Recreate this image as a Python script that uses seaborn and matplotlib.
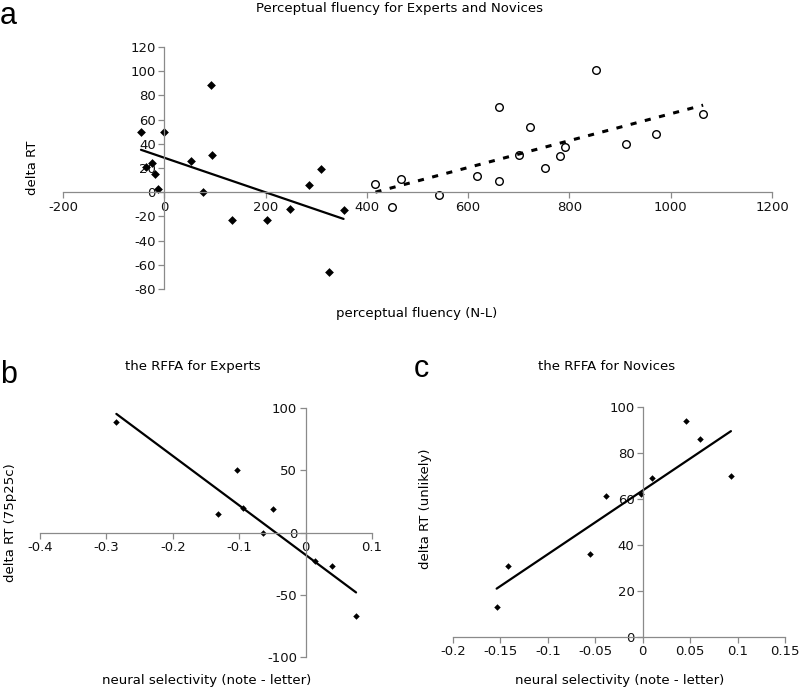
import numpy as np
import pandas as pd
import matplotlib
matplotlib.use("Agg")
import matplotlib.pyplot as plt
import seaborn as sns
from matplotlib.ticker import FuncFormatter

# panel a: perceptual fluency (N-L) vs delta RT
expert_fluency = [-46, 0, 92, 95, 53, -24, -36, -18, -13, 77, 134, 202, 249, 285, 309, 325, 354]
expert_rt = [50, 50, 89, 31, 26, 24, 21, 15, 3, 0, -23, -23, -14, 6, 19, -66, -15]
novice_fluency = [417, 449, 467, 543, 617, 661, 661, 701, 722, 751, 782, 792, 853, 911, 970, 1064]
novice_rt = [7, -12, 11, -2, 13, 9, 70, 31, 54, 20, 30, 37, 101, 40, 48, 65]

# panel b: RFFA selectivity for experts vs delta RT (75p25c)
b_selectivity = [-0.285, -0.104, -0.132, -0.094, -0.049, -0.064, 0.014, 0.040, 0.076]
b_rt = [89, 50, 15, 20, 19, 0, -23, -27, -67]

# panel c: RFFA selectivity for novices vs delta RT (unlikely)
c_selectivity = [-0.154, -0.142, -0.056, -0.039, -0.002, 0.010, 0.046, 0.060, 0.093]
c_rt = [13, 31, 36, 61.5, 62, 69, 94, 86, 70]

a_xticks = [-200, 0, 200, 400, 600, 800, 1000, 1200]
a_yticks = [-80, -60, -40, -20, 0, 20, 40, 60, 80, 100, 120]
b_xticks = [-0.4, -0.3, -0.2, -0.1, 0, 0.1]
b_yticks = [-100, -50, 0, 50, 100]
c_xticks = [-0.2, -0.15, -0.1, -0.05, 0, 0.05, 0.1, 0.15]
c_yticks = [0, 20, 40, 60, 80, 100]

sns.set_style("white")
plt.rcParams["font.family"] = ["DejaVu Sans"]
plt.rcParams["axes.unicode_minus"] = False
plt.rcParams["text.color"] = "black"

W, H = 800, 691
FS = 9.5
fig = plt.figure(figsize=(W / 100, H / 100), dpi=100)


def px_axes(x0, y0, x1, y1):
    return fig.add_axes([x0 / W, 1 - y1 / H, (x1 - x0) / W, (y1 - y0) / H])


def px_text(x, y, s, **kw):
    fig.text(x / W, 1 - y / H, s, **kw)


def excel_axes(ax, xticks, yticks):
    ax.set_xlim(xticks[0], xticks[-1])
    ax.set_ylim(yticks[0], yticks[-1])
    ax.set_xticks(xticks)
    ax.set_yticks(yticks)
    fmt = FuncFormatter(lambda v, p: "%g" % round(v, 3))
    ax.xaxis.set_major_formatter(fmt)
    ax.yaxis.set_major_formatter(fmt)
    for side in ["top", "right"]:
        ax.spines[side].set_visible(False)
    for side in ["left", "bottom"]:
        ax.spines[side].set_position(("data", 0))
        ax.spines[side].set_color("#8a8a8a")
        ax.spines[side].set_linewidth(0.9)
    ax.tick_params(bottom=True, left=True, direction="out", length=4,
                   width=0.9, color="#8a8a8a", labelsize=FS, pad=2,
                   labelcolor="#111111")
    ax.set_xlabel("")
    ax.set_ylabel("")
    ax.patch.set_alpha(0)


# --- panel a ---
ax = px_axes(63, 47, 772, 289)
sns.regplot(x=expert_fluency, y=expert_rt, ax=ax, ci=None, color="black",
            marker="D", scatter_kws={"s": 20, "alpha": 1, "linewidths": 0},
            line_kws={"lw": 1.6})
sns.regplot(x=novice_fluency, y=novice_rt, ax=ax, ci=None, color="black",
            marker="o",
            scatter_kws={"s": 30, "alpha": 1, "facecolors": "white",
                         "edgecolors": "black", "linewidths": 1},
            line_kws={"lw": 2.2, "linestyle": (0, (2.0, 2.8))})
excel_axes(ax, a_xticks, a_yticks)

px_text(400, 12, "Perceptual fluency for Experts and Novices", ha="center",
        va="baseline", fontsize=FS)
px_text(417, 317, "perceptual fluency (N-L)", ha="center", va="baseline",
        fontsize=FS)
px_text(33, 168, "delta RT", ha="center", va="center", rotation=90,
        fontsize=FS)
px_text(0, 24, "a", ha="left", va="baseline", fontsize=22,
        family="Liberation Sans")

# --- panel b ---
ax = px_axes(40, 408, 372, 657)
sns.regplot(x=b_selectivity, y=b_rt, ax=ax, ci=None, color="black",
            marker="D", scatter_kws={"s": 11, "alpha": 1, "linewidths": 0},
            line_kws={"lw": 1.6})
excel_axes(ax, b_xticks, b_yticks)

px_text(193, 370, "the RFFA for Experts", ha="center", va="baseline",
        fontsize=FS)
px_text(207, 684, "neural selectivity (note - letter)", ha="center",
        va="baseline", fontsize=FS)
px_text(11, 523, "delta RT (75p25c)", ha="center", va="center",
        rotation=90, fontsize=FS)
px_text(0, 383, "b", ha="left", va="baseline", fontsize=22,
        family="Liberation Sans")

# --- panel c ---
ax = px_axes(453, 407, 785, 637)
sns.regplot(x=c_selectivity, y=c_rt, ax=ax, ci=None, color="black",
            marker="D", scatter_kws={"s": 11, "alpha": 1, "linewidths": 0},
            line_kws={"lw": 1.6})
excel_axes(ax, c_xticks, c_yticks)

px_text(607, 370, "the RFFA for Novices", ha="center", va="baseline",
        fontsize=FS)
px_text(620, 684, "neural selectivity (note - letter)", ha="center",
        va="baseline", fontsize=FS)
px_text(425, 509, "delta RT (unlikely)", ha="center", va="center",
        rotation=90, fontsize=FS)
px_text(414, 377, "c", ha="left", va="baseline", fontsize=22,
        family="Liberation Sans")

fig.savefig("out.png", dpi=100)
